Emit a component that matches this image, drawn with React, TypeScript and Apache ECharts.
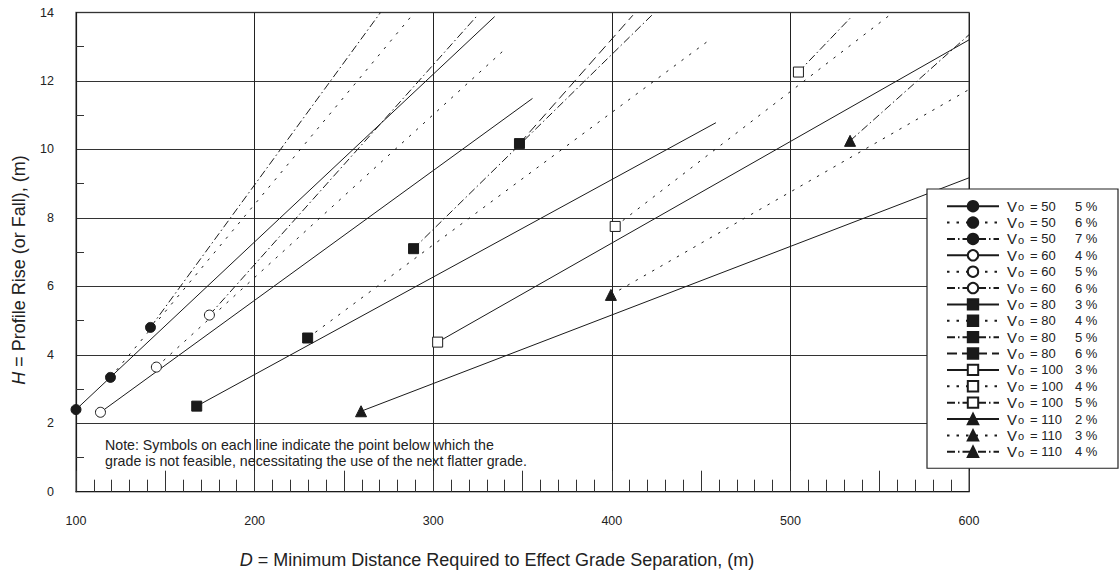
import React, { useEffect, useRef } from "react";
import * as echarts from "echarts";

// axis ticks
const xTickLabels = [100, 200, 300, 400, 500, 600];
const yTickLabels = [0, 2, 4, 6, 8, 10, 12, 14];

// speeds (km/h) and grades (%) per line, in legend order
const speeds = [50, 50, 50, 60, 60, 60, 80, 80, 80, 80, 100, 100, 100, 110, 110, 110];
const grades = [5, 6, 7, 4, 5, 6, 3, 4, 5, 6, 3, 4, 5, 2, 3, 4];

// line data: [D (m), H (m)]; first point is the feasibility symbol
const v50g5 = [[100, 2.4], [334.4, 13.88]];
const v50g6 = [[119.3, 3.34], [289, 13.97]];
const v50g7 = [[141.7, 4.8], [270.5, 14.0]];
const v60g4 = [[113.7, 2.32], [355.6, 11.49]];
const v60g5 = [[145, 3.64], [341.3, 12.98]];
const v60g6 = [[174.7, 5.16], [324.5, 13.9]];
const v80g3 = [[167.6, 2.5], [458.3, 10.78]];
const v80g4 = [[229.7, 4.49], [454.5, 13.19]];
const v80g5 = [[289, 7.1], [422.4, 13.92]];
const v80g6 = [[348.3, 10.17], [411.8, 13.92]];
const v100g3 = [[302.5, 4.37], [600, 13.2]];
const v100g4 = [[401.9, 7.75], [555, 13.9]];
const v100g5 = [[504.5, 12.26], [534.3, 13.88]];
const v110g2 = [[259.6, 2.35], [600, 9.17]];
const v110g3 = [[399.5, 5.75], [600, 11.75]];
const v110g4 = [[533.4, 10.25], [600, 13.35]];

const lineData = [
  v50g5, v50g6, v50g7,
  v60g4, v60g5, v60g6,
  v80g3, v80g4, v80g5, v80g6,
  v100g3, v100g4, v100g5,
  v110g2, v110g3, v110g4,
];
// line pattern index per series: 0 solid, 1 dotted, 2 dash-dot, 3 dashed
const patterns = [0, 1, 2, 0, 1, 2, 0, 1, 2, 3, 0, 1, 2, 0, 1, 2];

const FONT = "'Liberation Sans', Arial, Helvetica, sans-serif";
const INK = "#1a1a1a";

const dashFor = (p: number): any => {
  if (p === 1) return [2.5, 7];
  if (p === 2) return [8, 3, 1.5, 3];
  if (p === 3) return [10, 5];
  return "solid";
};

const symbolFor = (v: number) => {
  if (v === 50) return { symbol: "circle", fill: INK };
  if (v === 60) return { symbol: "circle", fill: "#fff" };
  if (v === 80) return { symbol: "rect", fill: INK };
  if (v === 100) return { symbol: "rect", fill: "#fff" };
  return { symbol: "triangle", fill: INK };
};

export default function App() {
  const ref = useRef<HTMLDivElement>(null);

  useEffect(() => {
    document.body.style.margin = "0";
    if (!ref.current) return;
    const chart = echarts.init(ref.current, undefined, { renderer: "svg" });

    const names = speeds.map((v, i) => `V${v}-${grades[i]}`);

    const series = lineData.map((pts, i) => {
      const s = symbolFor(speeds[i]);
      return {
        name: names[i],
        type: "line",
        symbol: s.symbol,
        symbolSize: speeds[i] === 110 ? 11 : 10,
        itemStyle: { color: s.fill, borderColor: INK, borderWidth: 1 },
        lineStyle: { color: INK, width: 1, type: dashFor(patterns[i]) },
        data: pts.map((p, j) =>
          j === 0 ? { value: p } : { value: p, symbol: "none" }
        ),
        z: 3,
      };
    });

    const tokenBase = { fontFamily: FONT, color: "#222", lineHeight: 13 };

    const option: any = {
      animation: false,
      backgroundColor: "#fff",
      grid: {
        left: 76,
        right: 151,
        top: 12.5,
        bottom: 79.3,
        show: true,
        borderColor: "#777",
        borderWidth: 1.5,
      },
      xAxis: [
        {
          type: "value",
          min: xTickLabels[0],
          max: xTickLabels[xTickLabels.length - 1],
          interval: 100,
          axisLine: { show: true, lineStyle: { color: INK, width: 1.2 } },
          axisTick: { show: false, inside: true },
          minorTick: {
            show: true,
            splitNumber: 10,
            length: 12,
            lineStyle: { color: "#333", width: 1 },
          },
          splitLine: { show: true, lineStyle: { color: "#222", width: 1 } },
          axisLabel: {
            margin: 23,
            fontSize: 12.5,
            fontFamily: FONT,
            color: "#222",
          },
        },
        {
          type: "value",
          position: "bottom",
          min: xTickLabels[0],
          max: xTickLabels[xTickLabels.length - 1],
          interval: 50,
          axisLine: { show: false },
          axisTick: {
            show: true,
            inside: true,
            length: 21,
            lineStyle: { color: "#333", width: 1 },
          },
          splitLine: { show: false },
          axisLabel: { show: false },
        },
      ],
      yAxis: {
        type: "value",
        min: yTickLabels[0],
        max: yTickLabels[yTickLabels.length - 1],
        interval: 2,
        axisLine: { show: true, lineStyle: { color: INK, width: 1.2 } },
        axisTick: { show: false, inside: true },
        minorTick: {
          show: true,
          splitNumber: 2,
          length: 8,
          lineStyle: { color: "#333", width: 1 },
        },
        splitLine: { show: true, lineStyle: { color: "#333", width: 1 } },
        axisLabel: {
          margin: 22,
          fontSize: 12.5,
          fontFamily: FONT,
          color: "#222",
        },
      },
      legend: {
        orient: "vertical",
        left: 927,
        top: 189,
        padding: [8.7, 20, 9, 19],
        itemWidth: 52,
        itemHeight: 13,
        itemGap: 0.37,
        backgroundColor: "#fff",
        borderColor: "#222",
        borderWidth: 1.2,
        data: names,
        formatter: (name: string) => {
          const i = names.indexOf(name);
          return `{v|V}{o|o}{eq|= ${speeds[i]}}{p|${grades[i]} %}`;
        },
        textStyle: {
          fontFamily: FONT,
          color: "#222",
          fontSize: 13,
          lineHeight: 13,
          rich: {
            v: { ...tokenBase, fontSize: 15, width: 11, padding: [0, 0, 0, 3] },
            o: { ...tokenBase, fontSize: 11, width: 12, lineHeight: 9, padding: [4, 0, 0, 0], verticalAlign: "bottom" },
            eq: { ...tokenBase, fontSize: 13, width: 45 },
            p: { ...tokenBase, fontSize: 13, width: 23 },
          },
        },
        z: 10,
      },
      graphic: [
        {
          type: "text",
          left: 105,
          top: 437,
          z: 5,
          style: {
            text:
              "Note: Symbols on each line indicate the point below which the\ngrade is not feasible, necessitating the use of the next flatter grade.",
            font: `14.2px ${FONT}`,
            fill: "#222",
            lineHeight: 16,
          },
        },
        {
          type: "text",
          x: 497,
          y: 560,
          z: 5,
          style: {
            text: "{i|D} = Minimum Distance Required to Effect Grade Separation, (m)",
            font: `18px ${FONT}`,
            fill: "#222",
            align: "center",
            verticalAlign: "middle",
            rich: {
              i: { fontStyle: "italic", fontSize: 18, fontFamily: FONT, fill: "#222" },
            },
          },
        },
        {
          type: "text",
          x: 19,
          y: 270,
          rotation: Math.PI / 2,
          z: 5,
          style: {
            text: "{i|H} = Profile Rise (or Fall), (m)",
            font: `18px ${FONT}`,
            fill: "#222",
            align: "center",
            verticalAlign: "middle",
            rich: {
              i: { fontStyle: "italic", fontSize: 18, fontFamily: FONT, fill: "#222" },
            },
          },
        },
      ],
      series,
    };

    chart.setOption(option);
    return () => chart.dispose();
  }, []);

  return <div ref={ref} style={{ width: 1120, height: 571 }} />;
}
